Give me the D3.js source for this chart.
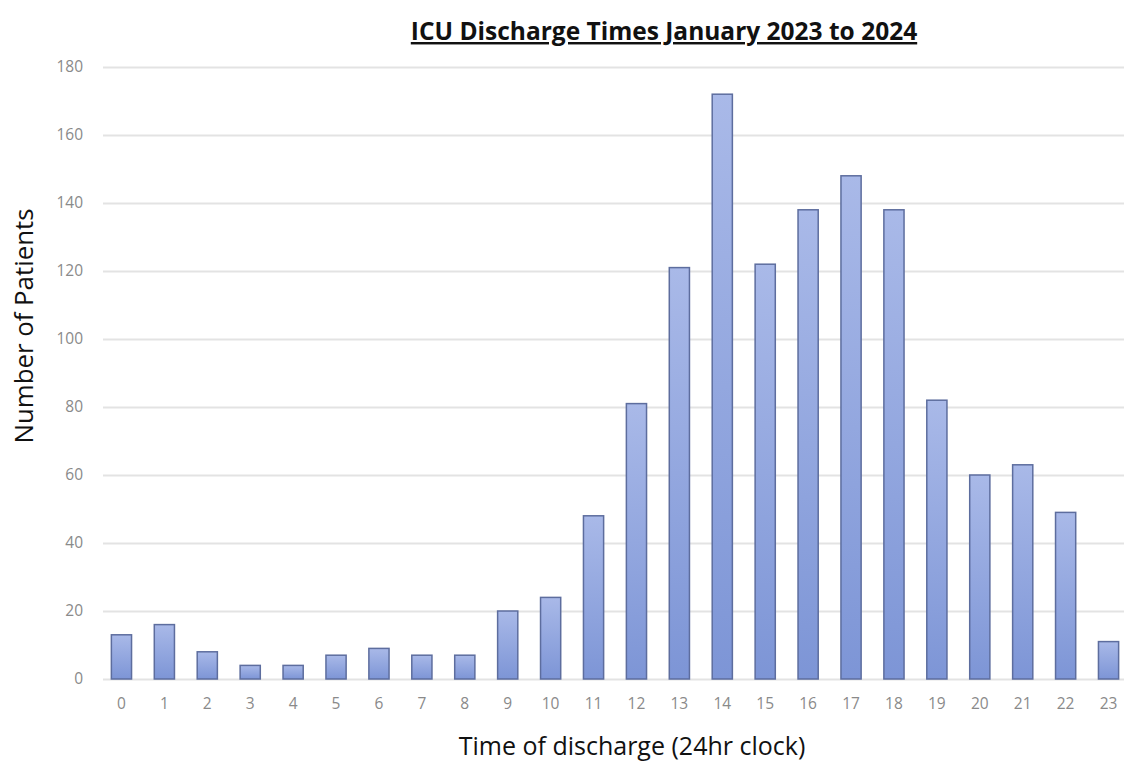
<!DOCTYPE html>
<html>
<head>
<meta charset="utf-8">
<script src="https://cdn.jsdelivr.net/npm/d3@7"></script>
<style>
  body { margin: 0; background: #fff; }
  svg { display: block; }
</style>
</head>
<body>
<div id="chart"></div>
<script>
const hours = ["0","1","2","3","4","5","6","7","8","9","10","11","12","13","14","15","16","17","18","19","20","21","22","23"];
const patients = [13, 16, 8, 4, 4, 7, 9, 7, 7, 20, 24, 48, 81, 121, 172, 122, 138, 148, 138, 82, 60, 63, 49, 11];
const yTicks = [0, 20, 40, 60, 80, 100, 120, 140, 160, 180];

const width = 1124;
const height = 763;
const margin = { top: 67, right: -6, bottom: 84, left: 100 };

const svg = d3.select("#chart")
    .append("svg")
    .attr("width", width)
    .attr("height", height);

const defs = svg.append("defs");
const grad = defs.append("linearGradient")
    .attr("id", "barGrad")
    .attr("x1", 0).attr("y1", 0).attr("x2", 0).attr("y2", 1);
grad.append("stop").attr("offset", "0%").attr("stop-color", "#a9b9e8");
grad.append("stop").attr("offset", "100%").attr("stop-color", "#7d95d6");

const x = d3.scaleBand()
    .domain(hours)
    .range([margin.left, width - margin.right])
    .paddingInner(0.53)
    .paddingOuter(0.265);

const y = d3.scaleLinear()
    .domain([0, 180])
    .range([height - margin.bottom, margin.top]);

// gridlines
svg.append("g")
    .selectAll("line")
    .data(yTicks)
    .enter()
    .append("line")
    .attr("x1", 103)
    .attr("x2", width)
    .attr("y1", (d) => Math.round(y(d)) + 0.5)
    .attr("y2", (d) => Math.round(y(d)) + 0.5)
    .attr("stroke", "#e3e3e3")
    .attr("stroke-width", 2);

// y tick labels
svg.append("g")
    .selectAll("text")
    .data(yTicks)
    .enter()
    .append("text")
    .attr("x", 83)
    .attr("y", (d) => y(d) + 5)
    .attr("text-anchor", "end")
    .style("font-family", "'Open Sans', sans-serif")
    .style("font-size", "15.5px")
    .style("fill", "#8a8a8a")
    .text((d) => d);

// bars
svg.append("g")
    .selectAll("rect")
    .data(patients)
    .enter()
    .append("rect")
    .attr("x", (d, i) => x(hours[i]))
    .attr("y", (d) => y(d))
    .attr("width", x.bandwidth())
    .attr("height", (d) => y(0) - y(d))
    .attr("fill", "url(#barGrad)")
    .attr("stroke", "#5d6d9e")
    .attr("stroke-width", 1.5);

// x tick labels
svg.append("g")
    .selectAll("text")
    .data(hours)
    .enter()
    .append("text")
    .attr("x", (d) => x(d) + x.bandwidth() / 2)
    .attr("y", 709)
    .attr("text-anchor", "middle")
    .style("font-family", "'Open Sans', sans-serif")
    .style("font-size", "15.5px")
    .style("fill", "#8a8a8a")
    .text((d) => d);

// title
svg.append("text")
    .attr("x", 664)
    .attr("y", 40)
    .attr("text-anchor", "middle")
    .style("font-family", "'Open Sans', sans-serif")
    .style("font-weight", "bold")
    .style("font-size", "24.5px")
    .style("text-decoration", "underline")
    .style("fill", "#111")
    .text("ICU Discharge Times January 2023 to 2024");

// axis titles
svg.append("text")
    .attr("x", 632)
    .attr("y", 755)
    .attr("text-anchor", "middle")
    .style("font-family", "'Open Sans', sans-serif")
    .style("font-size", "25px")
    .style("fill", "#111")
    .text("Time of discharge (24hr clock)");

svg.append("text")
    .attr("transform", "rotate(-90)")
    .attr("x", -326)
    .attr("y", 33)
    .attr("text-anchor", "middle")
    .style("font-family", "'Open Sans', sans-serif")
    .style("font-size", "25.8px")
    .style("fill", "#111")
    .text("Number of Patients");
</script>
</body>
</html>
